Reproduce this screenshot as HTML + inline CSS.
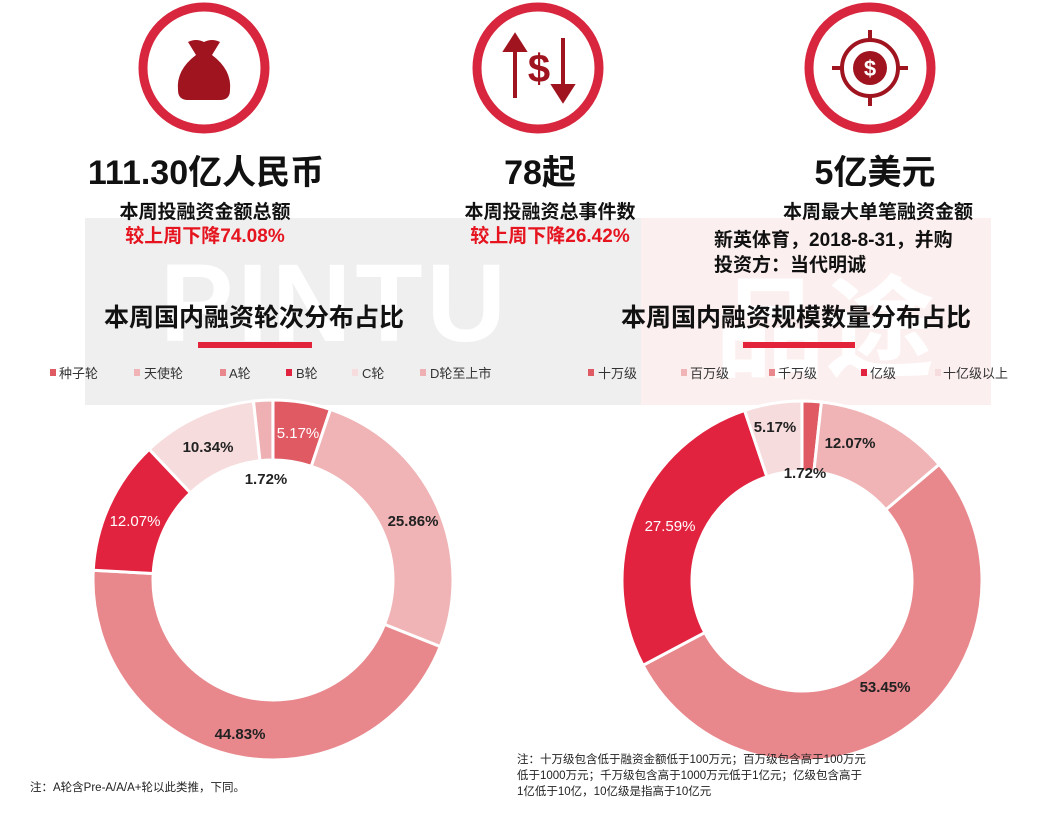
<!DOCTYPE html>
<html><head><meta charset="utf-8"><style>
html,body{margin:0;padding:0;background:#fff;}
body{width:1055px;height:815px;position:relative;overflow:hidden;font-family:"Liberation Sans","Noto Sans CJK SC",sans-serif;color:#111;}
.t{position:absolute;white-space:nowrap;}
.c{transform:translateX(-50%);}
.big{font-size:34px;font-weight:bold;}
.sub{font-size:19px;font-weight:bold;}
.red{color:#e5141f;}
.ttl{font-size:25px;font-weight:bold;}
.lg{font-size:13px;color:#333;}
.mk{position:absolute;width:6px;height:7px;}
.note{font-size:11.5px;color:#222;line-height:16px;}
</style></head><body>
<div style="position:absolute;left:85px;top:218px;width:556px;height:187px;background:#efefef;"></div>
<div style="position:absolute;left:641px;top:218px;width:350px;height:187px;background:#fcefef;"></div>
<div class="t" style="left:160px;top:240px;font-size:110px;font-weight:bold;color:#fff;letter-spacing:4px;">PINTU</div>
<div class="t" style="left:715px;top:240px;font-size:110px;font-weight:bold;color:#fff;">品途</div>

<svg width="1055" height="815" style="position:absolute;left:0;top:0;">
<g fill="none" stroke="#d7263d" stroke-width="9">
<circle cx="204" cy="68" r="61"/><circle cx="538" cy="68" r="61"/><circle cx="870" cy="68" r="61"/>
</g>
<g fill="#a0141f">
<path d="M188 42 Q196 38 204 42 Q212 38 220 42 L212 55 Q232 70 230 90 Q230 100 220 100 L188 100 Q178 100 178 90 Q176 70 196 55 Z"/>
</g>
<g stroke="#a0141f" stroke-width="4" fill="#a0141f">
<line x1="515" y1="40" x2="515" y2="98"/><path d="M506 50 L515 36 L524 50 Z"/>
<line x1="563" y1="38" x2="563" y2="94"/><path d="M554 86 L563 100 L572 86 Z"/>
</g>
<text x="539" y="82" font-size="40" font-weight="bold" fill="#a0141f" text-anchor="middle" font-family="Liberation Sans">$</text>
<g stroke="#a0141f" stroke-width="4" fill="none">
<circle cx="870" cy="68" r="28"/><line x1="870" y1="30" x2="870" y2="40"/><line x1="870" y1="96" x2="870" y2="106"/>
<line x1="832" y1="68" x2="842" y2="68"/><line x1="898" y1="68" x2="908" y2="68"/>
</g>
<circle cx="870" cy="68" r="17" fill="#a0141f"/>
<text x="870" y="76" font-size="22" font-weight="bold" fill="#fff" text-anchor="middle" font-family="Liberation Sans">$</text>
<rect x="198" y="342" width="114" height="6" fill="#e2233a"/>
<rect x="743" y="342" width="112" height="6" fill="#e2233a"/>
<g id="d1"></g><g id="d2"></g>
<g font-family="Liberation Sans" font-size="15" text-anchor="middle" font-weight="bold">
<text x="298" y="438" fill="#fff" font-weight="normal">5.17%</text>
<text x="413" y="526" fill="#222">25.86%</text>
<text x="240" y="739" fill="#222">44.83%</text>
<text x="135" y="526" fill="#fff" font-weight="normal">12.07%</text>
<text x="208" y="452" fill="#222">10.34%</text>
<text x="266" y="484" fill="#222">1.72%</text>
<text x="850" y="448" fill="#222">12.07%</text>
<text x="805" y="478" fill="#222">1.72%</text>
<text x="775" y="432" fill="#222">5.17%</text>
<text x="670" y="531" fill="#fff" font-weight="normal">27.59%</text>
<text x="885" y="692" fill="#222">53.45%</text>
</g>
</svg>

<div class="t c big" style="left:206px;top:145px;">111.30亿人民币</div>
<div class="t c sub" style="left:205px;top:197px;">本周投融资金额总额</div>
<div class="t c sub red" style="left:205px;top:221px;">较上周下降74.08%</div>
<div class="t c big" style="left:540px;top:145px;">78起</div>
<div class="t c sub" style="left:550px;top:197px;">本周投融资总事件数</div>
<div class="t c sub red" style="left:550px;top:221px;">较上周下降26.42%</div>
<div class="t c big" style="left:875px;top:145px;">5亿美元</div>
<div class="t c sub" style="left:878px;top:197px;">本周最大单笔融资金额</div>
<div class="t sub" style="left:714px;top:225px;">新英体育，2018-8-31，并购</div>
<div class="t sub" style="left:714px;top:250px;">投资方：当代明诚</div>
<div class="t c ttl" style="left:254px;top:298px;">本周国内融资轮次分布占比</div>
<div class="t c ttl" style="left:796px;top:298px;">本周国内融资规模数量分布占比</div>

<div class="mk" style="left:50px;top:369px;background:#e05a64"></div><div class="t lg" style="left:59px;top:363px;">种子轮</div>
<div class="mk" style="left:134px;top:369px;background:#f0b4b6"></div><div class="t lg" style="left:144px;top:363px;">天使轮</div>
<div class="mk" style="left:220px;top:369px;background:#e8878c"></div><div class="t lg" style="left:229px;top:363px;">A轮</div>
<div class="mk" style="left:286px;top:369px;background:#e2233f"></div><div class="t lg" style="left:296px;top:363px;">B轮</div>
<div class="mk" style="left:352px;top:369px;background:#f7dcdd"></div><div class="t lg" style="left:362px;top:363px;">C轮</div>
<div class="mk" style="left:420px;top:369px;background:#efb0b3"></div><div class="t lg" style="left:430px;top:363px;">D轮至上市</div>
<div class="mk" style="left:588px;top:369px;background:#e05a64"></div><div class="t lg" style="left:598px;top:363px;">十万级</div>
<div class="mk" style="left:681px;top:369px;background:#f0b4b6"></div><div class="t lg" style="left:690px;top:363px;">百万级</div>
<div class="mk" style="left:769px;top:369px;background:#e8878c"></div><div class="t lg" style="left:778px;top:363px;">千万级</div>
<div class="mk" style="left:861px;top:369px;background:#e2233f"></div><div class="t lg" style="left:870px;top:363px;">亿级</div>
<div class="mk" style="left:935px;top:369px;background:#f7dcdd"></div><div class="t lg" style="left:943px;top:363px;">十亿级以上</div>

<div class="t note" style="left:30px;top:780px;">注：A轮含Pre-A/A/A+轮以此类推，下同。</div>
<div class="t note" style="left:517px;top:752px;">注：十万级包含低于融资金额低于100万元；百万级包含高于100万元<br>低于1000万元；千万级包含高于1000万元低于1亿元；亿级包含高于<br>1亿低于10亿，10亿级是指高于10亿元</div>

<script>
function donut(id,cx,cy,R,r,data){
 var g=document.getElementById(id),a=0,s='';
 data.forEach(function(d){
  var a0=a*2*Math.PI/100,a1=(a+d[0])*2*Math.PI/100;a+=d[0];
  var L=(a1-a0)>Math.PI?1:0;
  function p(rad,an){return [(cx+rad*Math.sin(an)).toFixed(2),(cy-rad*Math.cos(an)).toFixed(2)].join(' ');}
  s+='<path d="M'+p(R,a0)+' A'+R+' '+R+' 0 '+L+' 1 '+p(R,a1)+' L'+p(r,a1)+' A'+r+' '+r+' 0 '+L+' 0 '+p(r,a0)+' Z" fill="'+d[1]+'" stroke="#fff" stroke-width="3"/>';
 });
 g.innerHTML=s;
}
donut('d1',273,580,180,120,[[5.17,'#e05a64'],[25.86,'#f0b4b6'],[44.83,'#e8878c'],[12.07,'#e2233f'],[10.34,'#f7dcdd'],[1.72,'#efb0b3']]);
donut('d2',802,581,180,110,[[1.72,'#e05a64'],[12.07,'#f0b4b6'],[53.45,'#e8878c'],[27.59,'#e2233f'],[5.17,'#f7dcdd']]);
</script>
</body></html>
